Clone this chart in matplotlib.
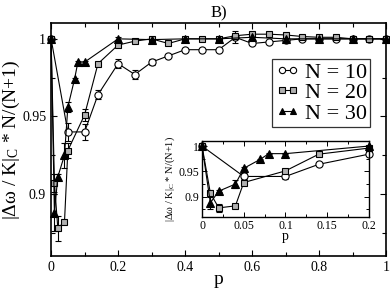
import matplotlib
matplotlib.use("Agg")
import matplotlib.pyplot as plt
import numpy as np
from matplotlib.ticker import MultipleLocator, FuncFormatter
from matplotlib.lines import Line2D

plt.rcParams['font.family'] = ['Liberation Serif', 'DejaVu Serif']
plt.rcParams['mathtext.fontset'] = 'custom'
plt.rcParams['mathtext.rm'] = 'Liberation Serif'
plt.rcParams['mathtext.it'] = 'Liberation Serif:italic'

# ---- data ----
p10 = [0, 0.05, 0.1, 0.14, 0.2, 0.25, 0.3, 0.35, 0.4, 0.45, 0.5, 0.55, 0.6, 0.65, 0.7, 0.75, 0.8, 0.85, 0.9, 0.95, 1.0]
y10 = [1.0, 0.940, 0.940, 0.964, 0.984, 0.977, 0.985, 0.989, 0.993, 0.993, 0.993, 1.001, 0.997, 0.998, 0.999, 1.0, 1.0, 1.0, 1.0, 1.0, 1.0]
e10 = [0, 0.006, 0.005, 0.003, 0.003, 0.003, 0.002, 0.001, 0.001, 0.001, 0.001, 0.004, 0.001, 0.001, 0.001, 0.001, 0.001, 0.001, 0.001, 0.001, 0]

p20 = [0, 0.01, 0.02, 0.04, 0.05, 0.1, 0.14, 0.2, 0.25, 0.3, 0.35, 0.4, 0.45, 0.5, 0.55, 0.6, 0.65, 0.7, 0.75, 0.8, 0.85, 0.9, 0.95, 1.0]
y20 = [1.0, 0.907, 0.878, 0.882, 0.928, 0.951, 0.984, 0.996, 0.9985, 1.0, 0.997, 1.0, 1.0, 1.0, 1.002, 1.003, 1.003, 1.0025, 1.0015, 1.001, 1.001, 1.0, 1.0, 1.0]
e20 = [0, 0.006, 0.008, 0.001, 0.005, 0.004, 0.001, 0.001, 0.001, 0.001, 0.001, 0.001, 0.001, 0.001, 0.001, 0.001, 0.001, 0.001, 0.001, 0.001, 0.001, 0.001, 0.001, 0]

p30 = [0, 0.01, 0.02, 0.04, 0.05, 0.07, 0.08, 0.1, 0.2, 0.3, 0.4, 0.5, 0.6, 0.7, 0.8, 0.9, 1.0]
y30 = [1.0, 0.888, 0.911, 0.925, 0.956, 0.974, 0.985, 0.985, 1.0, 0.9995, 1.0, 1.0, 1.001, 1.0, 1.0, 1.0, 1.0]
e30 = [0, 0.012, 0.002, 0.008, 0.003, 0.001, 0.001, 0.001, 0.001, 0.001, 0.001, 0.001, 0.001, 0.001, 0.001, 0.001, 0]

labels = ['N = 10', 'N = 20', 'N = 30']
ylab = r'|Δω / K|$_\mathrm{C}$ * N/(N+1)'

styles = [dict(marker='o', mfc='white', mec='black', ms=5.2),
          dict(marker='s', mfc='#b0b0b0', mec='black', ms=4.8),
          dict(marker='^', mfc='black', mec='black', ms=5.2)]
series = [(p10, y10, e10), (p20, y20, e20), (p30, y30, e30)]

fig = plt.figure(figsize=(3.9, 2.88), dpi=100)
ax = fig.add_axes([0.131, 0.111, 0.859, 0.808])

for (px, py, pe), st in zip(series, styles):
    ax.errorbar(px, py, yerr=pe, color='black', lw=0.8, elinewidth=0.8,
                capsize=2.5, capthick=0.8, mew=0.8, clip_on=False, **st)

ax.set_xlim(0, 1)
ax.set_ylim(0.86, 1.01)
ax.xaxis.set_major_locator(MultipleLocator(0.2))
ax.xaxis.set_minor_locator(MultipleLocator(0.1))
ax.yaxis.set_major_locator(MultipleLocator(0.05))
ax.yaxis.set_minor_locator(MultipleLocator(0.025))
fmt = FuncFormatter(lambda v, pos: ('%g' % round(v, 4)))
ax.xaxis.set_major_formatter(fmt)
ax.yaxis.set_major_formatter(fmt)
ax.tick_params(which='both', direction='in', top=True, right=True, labelsize=10, width=0.8)
ax.tick_params(which='major', length=4)
ax.tick_params(which='minor', length=3)
for s in ax.spines.values():
    s.set_linewidth(1.2)
ax.set_xlabel('p', fontsize=14, labelpad=-2)
ax.set_ylabel(ylab, fontsize=14, labelpad=0)
ax.set_title('B)', fontsize=12, pad=4)

handles = [Line2D([], [], color='black', lw=0.8, mew=0.8,
                  marker=st['marker'], mfc=st['mfc'], mec=st['mec'], ms=4.5)
           for st in styles]
leg = ax.legend(handles, labels, loc='upper right', bbox_to_anchor=(0.952, 0.848), numpoints=2,
                fontsize=16, frameon=True, fancybox=False, edgecolor='black',
                handlelength=1.1, handletextpad=0.2, borderpad=0.15,
                labelspacing=0.0, borderaxespad=0)
leg.get_frame().set_linewidth(0.9)

# ---- inset ----
axi = fig.add_axes([0.518, 0.2465, 0.428, 0.264])
for (px, py, pe), st in zip(series, styles):
    sel = [i for i, v in enumerate(px) if v <= 0.2]
    axi.errorbar([px[i] for i in sel], [py[i] for i in sel], yerr=[pe[i] for i in sel],
                 color='black', lw=0.8, elinewidth=0.8, capsize=2.5, capthick=0.8,
                 mew=0.8, clip_on=False, **st)
axi.set_xlim(0, 0.2)
axi.set_ylim(0.86, 1.01)
axi.xaxis.set_major_locator(MultipleLocator(0.05))
axi.xaxis.set_minor_locator(MultipleLocator(0.025))
axi.yaxis.set_major_locator(MultipleLocator(0.05))
axi.yaxis.set_minor_locator(MultipleLocator(0.025))
axi.xaxis.set_major_formatter(fmt)
axi.yaxis.set_major_formatter(fmt)
axi.tick_params(which='both', direction='in', top=True, right=True, labelsize=8.5, width=0.7, pad=2)
axi.tick_params(which='major', length=3.5)
axi.tick_params(which='minor', length=2.5)
for s in axi.spines.values():
    s.set_linewidth(1.0)
axi.set_xlabel('p', fontsize=10, labelpad=-1)
axi.set_ylabel(ylab, fontsize=7.5, labelpad=1)

fig.savefig('out.png', dpi=100)
